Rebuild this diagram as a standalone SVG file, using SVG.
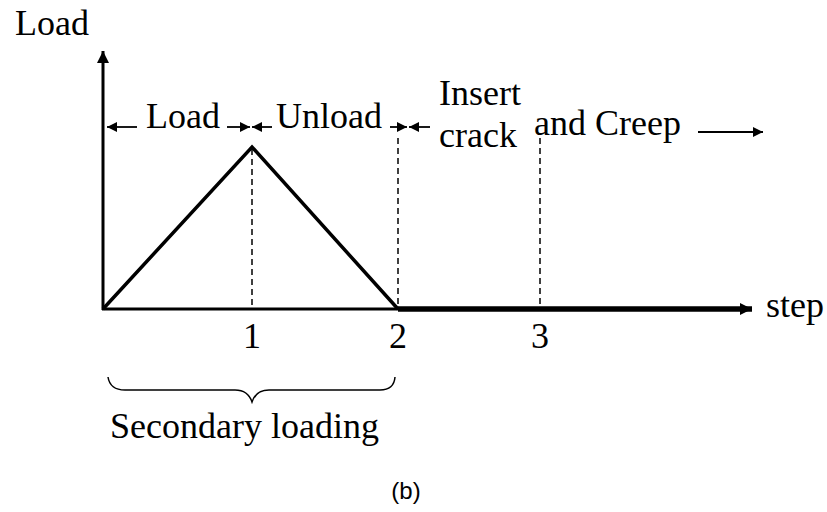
<svg xmlns="http://www.w3.org/2000/svg" width="827" height="512" viewBox="0 0 827 512">
<defs>
<marker id="ah" viewBox="0 0 10 10" refX="10" refY="5" markerWidth="11" markerHeight="10" markerUnits="userSpaceOnUse" orient="auto">
<path d="M0,0 L10,5 L0,10 Z" fill="#000"/>
</marker>
<marker id="ahBig" viewBox="0 0 10 10" refX="10" refY="5" markerWidth="18" markerHeight="12" markerUnits="userSpaceOnUse" orient="auto">
<path d="M0,0 L10,5 L0,10 Z" fill="#000"/>
</marker>
</defs>
<style>
.t{font-family:"Liberation Serif","Times New Roman",serif;font-size:36px;fill:#000}
.s{font-family:"Liberation Sans",Arial,sans-serif;font-size:24px;fill:#000}
.ln{stroke:#000;fill:none}
.dash{stroke:#000;stroke-width:1.5;stroke-dasharray:6,4;fill:none}
</style>
<rect width="827" height="512" fill="#fff"/>
<g id="axes">
<line class="ln" x1="103" y1="310" x2="103" y2="51" stroke-width="3" marker-end="url(#ahBig)"/>
<line class="ln" x1="102" y1="309" x2="400" y2="309" stroke-width="3"/>
<line class="ln" x1="398" y1="309" x2="752" y2="309" stroke-width="5.5" marker-end="url(#ahBig)"/>
</g>
<g id="curve">
<polyline class="ln" points="103,309 252,147 398,309" stroke-width="3.5" stroke-linejoin="miter"/>
</g>
<g id="guides">
<line class="dash" x1="252" y1="149" x2="252" y2="307"/>
<line class="dash" x1="398" y1="138" x2="398" y2="307"/>
<line class="dash" x1="540" y1="138" x2="540" y2="307"/>
</g>
<g id="connectors">
<line class="ln" stroke-width="1.8" x1="137" y1="127" x2="107" y2="127" marker-end="url(#ah)"/>
<line class="ln" stroke-width="1.8" x1="227" y1="127" x2="250" y2="127" marker-end="url(#ah)"/>
<line class="ln" stroke-width="1.8" x1="272" y1="127" x2="252" y2="127" marker-end="url(#ah)"/>
<line class="ln" stroke-width="1.8" x1="390" y1="127" x2="407" y2="127" marker-end="url(#ah)"/>
<line class="ln" stroke-width="1.8" x1="430" y1="127" x2="409" y2="127" marker-end="url(#ah)"/>
<line class="ln" stroke-width="1.8" x1="698" y1="132" x2="763" y2="132" marker-end="url(#ah)"/>
</g>
<g id="brace">
<path class="ln" stroke-width="1.5" d="M108,377 Q110,390 125,390 L235,390 Q248,390 252,402 Q256,390 269,390 L380,390 Q394,390 395,377"/>
</g>
<g id="labels">
<text class="t" x="15" y="35">Load</text>
<text class="t" x="146" y="128">Load</text>
<text class="t" x="276" y="128">Unload</text>
<text class="t" x="439" y="105">Insert</text>
<text class="t" x="439" y="147">crack</text>
<text class="t" x="534" y="135">and Creep</text>
<text class="t" x="766" y="317">step</text>
<text class="t" x="252" y="348" text-anchor="middle">1</text>
<text class="t" x="398" y="348" text-anchor="middle">2</text>
<text class="t" x="540" y="348" text-anchor="middle">3</text>
<text class="t" x="110" y="438">Secondary loading</text>
<text class="s" x="406" y="499" text-anchor="middle">(b)</text>
</g>
</svg>
